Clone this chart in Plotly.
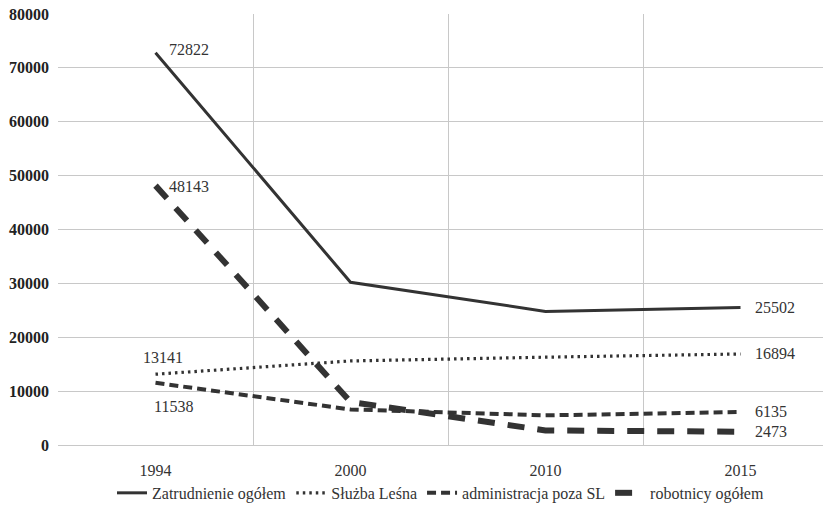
import plotly.graph_objects as go

years = ["1994", "2000", "2010", "2015"]
zatrudnienie = [72822, 30200, 24800, 25502]
sluzba = [13141, 15600, 16300, 16894]
administracja = [11538, 6600, 5500, 6135]
robotnicy = [48143, 8000, 2700, 2473]

ink = "#333333"
font_family = "Liberation Serif, Times New Roman, serif"

series = [
    ("Zatrudnienie ogółem", zatrudnienie, dict(width=3, dash="solid")),
    ("Służba Leśna", sluzba, dict(width=3.2, dash="2.5px,4px")),
    ("administracja poza SL", administracja, dict(width=4, dash="9px,5px")),
    ("robotnicy ogółem", robotnicy, dict(width=6, dash="17px,13px")),
]

fig = go.Figure()
for name, vals, style in series:
    fig.add_trace(go.Scatter(
        x=years, y=vals, name=name, mode="lines",
        line=dict(color=ink, **style),
        hoverinfo="skip",
    ))

# value labels at the first and last year (x given as category index)
def label(i, y, text, xshift=0, yshift=0, xanchor="left"):
    fig.add_annotation(x=i, y=y, xref="x", yref="y", text=text, showarrow=False,
                       xanchor=xanchor, yanchor="middle",
                       xshift=xshift, yshift=yshift,
                       font=dict(family=font_family, size=16, color=ink))

first, last = 0, len(years) - 1
label(first, zatrudnienie[0], str(zatrudnienie[0]), xshift=11, yshift=3)
label(first, robotnicy[0], str(robotnicy[0]), xshift=11, yshift=-1)
label(first, sluzba[0], str(sluzba[0]), xshift=7, yshift=17, xanchor="center")
label(first, administracja[0], str(administracja[0]), xshift=18, yshift=-24, xanchor="center")
for vals in (zatrudnienie, sluzba, administracja, robotnicy):
    label(last, vals[-1], str(vals[-1]), xshift=12)

fig.update_layout(
    width=823, height=514,
    margin=dict(l=58, r=0, t=14, b=69, autoexpand=False),
    paper_bgcolor="white", plot_bgcolor="white",
    font=dict(family=font_family, size=16, color=ink),
    showlegend=True,
    legend=dict(orientation="h", x=0.5, xanchor="center",
                yref="container", y=0.041, yanchor="middle",
                font=dict(family=font_family, size=16, color=ink),
                itemwidth=30, tracegroupgap=0),
)
fig.update_xaxes(
    type="category", range=[-0.5, 3.423],
    tickson="boundaries", showgrid=True, gridcolor="#c8c8c8", gridwidth=1,
    ticks="", showline=False, zeroline=False, ticklabelstandoff=14,
    tickfont=dict(family=font_family, size=16, color=ink),
)
fig.update_yaxes(
    range=[0, 80000], dtick=10000, showgrid=True, gridcolor="#c8c8c8", gridwidth=1,
    zeroline=True, zerolinecolor="#c8c8c8", zerolinewidth=1,
    ticks="", showline=False, tickformat="d", ticklabelstandoff=8,
    tickfont=dict(family="Liberation Serif, serif", size=16, color="#222222", weight="bold"),
)

fig.write_html("out.html")
